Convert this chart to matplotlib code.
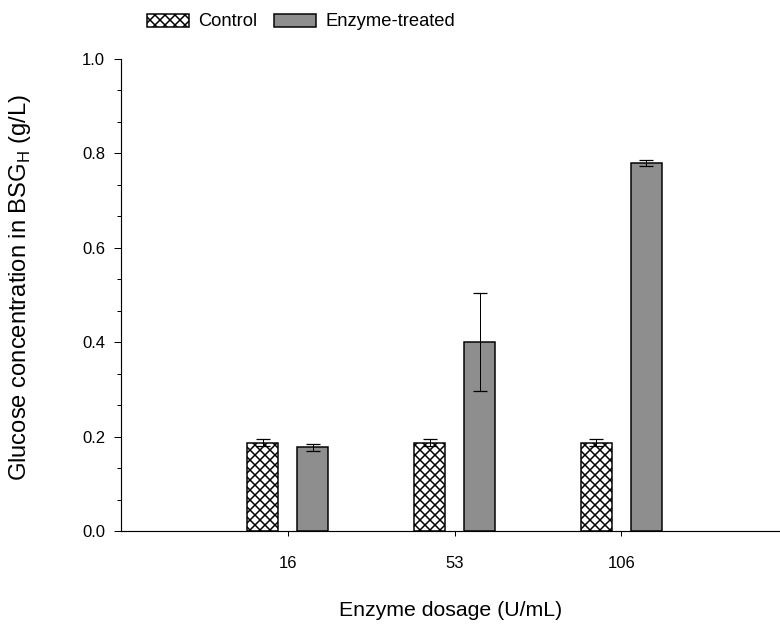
import numpy as np
import matplotlib
matplotlib.use('Agg')
import matplotlib.pyplot as plt
from matplotlib.ticker import AutoMinorLocator

# data
dosages = ['16', '53', '106']
control = [0.187, 0.187, 0.187]
control_err = [0.007, 0.007, 0.007]
enzyme = [0.177, 0.401, 0.779]
enzyme_err = [0.008, 0.104, 0.006]

# fonts and hatch settings
plt.rcParams['font.family'] = ['Liberation Sans', 'DejaVu Sans']
plt.rcParams['mathtext.fontset'] = 'custom'
plt.rcParams['mathtext.rm'] = 'Liberation Sans'
plt.rcParams['hatch.linewidth'] = 1.8
plt.rcParams['hatch.color'] = 'black'

dpi = 60
fig = plt.figure(figsize=(780 / dpi, 624 / dpi), dpi=dpi)
ax = fig.add_axes([121 / 780, 1 - 531 / 624, 1 - 121 / 780, (531 - 59) / 624])

x = np.arange(len(dosages))
w = 0.186
off = 0.15

ax.bar(x - off, control, w, color='white', edgecolor='black', hatch='xx',
       linewidth=1.8, label='Control', zorder=2)
ax.bar(x + off, enzyme, w, color='#8e8e8e', edgecolor='black',
       linewidth=1.8, label='Enzyme-treated', zorder=2)
ax.errorbar(x - off, control, yerr=control_err, fmt='none', ecolor='black',
            elinewidth=1.2, capsize=8.4, capthick=1.5, zorder=3)
ax.errorbar(x + off, enzyme, yerr=enzyme_err, fmt='none', ecolor='black',
            elinewidth=1.2, capsize=8.4, capthick=1.5, zorder=3)

ax.set_xlim(-1, (780 - 288) / 166.7)
ax.set_ylim(0, 1.0)
ax.set_xticks(x)
ax.set_xticklabels(dosages)
ax.set_yticks(np.arange(0, 1.01, 0.2))
ax.set_yticklabels([f'{v:.1f}' for v in np.arange(0, 1.01, 0.2)])
ax.yaxis.set_minor_locator(AutoMinorLocator(3))

for s in ['top', 'right']:
    ax.spines[s].set_visible(False)
for s in ['left', 'bottom']:
    ax.spines[s].set_linewidth(1.4)

ax.tick_params(axis='y', which='major', direction='out', length=8, width=1.2,
               pad=11, labelsize=20)
ax.tick_params(axis='y', which='minor', direction='out', length=4.5, width=1.2)
ax.tick_params(axis='x', which='major', direction='out', length=6, width=1.2,
               pad=24, labelsize=20)

ax.set_xlabel('Enzyme dosage (U/mL)', fontsize=25.5)
ax.xaxis.set_label_coords(0.5, (531 - 601) / 472)
ax.set_ylabel(r'Glucose concentration in BSG$_\mathregular{H}$ (g/L)', fontsize=28.5)
ax.yaxis.set_label_coords((20 - 121) / 659, 0.515)
ax.yaxis.label.set_va('center')

fig.legend(loc='center left', bbox_to_anchor=(138 / 780, 1 - 22 / 624),
           bbox_transform=fig.transFigure, ncol=2, frameon=False, fontsize=22,
           borderpad=0, handlelength=2.3, handleheight=0.7, handletextpad=0.5,
           columnspacing=0.9)

fig.savefig('out.png', dpi=dpi)
